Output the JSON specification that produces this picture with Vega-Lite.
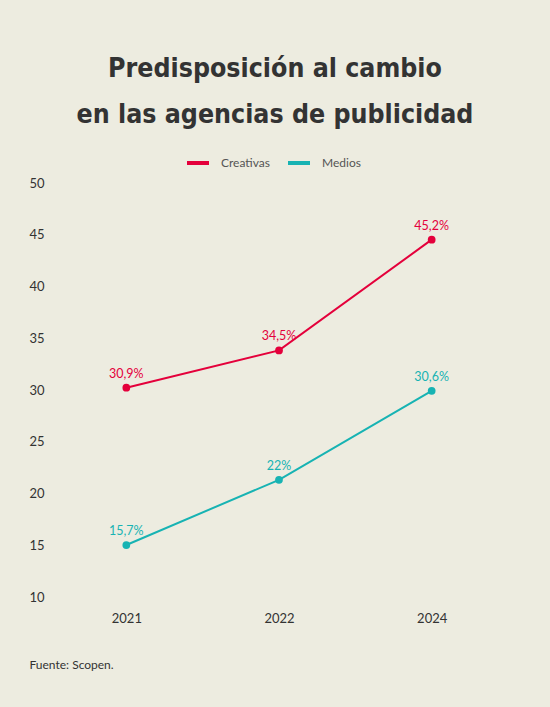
{
  "$schema": "https://vega.github.io/schema/vega-lite/v6.json",
  "autosize": "none",
  "width": 458,
  "height": 414,
  "padding": {"left": 50, "top": 190, "right": 42, "bottom": 103},
  "background": "#EDECE0",
  "title": {
    "text": ["Predisposición al cambio", "en las agencias de publicidad"],
    "anchor": "middle",
    "dx": -4,
    "font": "DejaVu Sans Condensed, Liberation Sans Narrow, sans-serif",
    "fontSize": 26.5,
    "fontWeight": "bold",
    "color": "#333333",
    "lineHeight": 46,
    "offset": 22
  },
  "data": {
    "values": [
      {"year": "2021", "serie": "Creativas", "value": 30.9, "label": "30,9%"},
      {"year": "2022", "serie": "Creativas", "value": 34.5, "label": "34,5%"},
      {"year": "2024", "serie": "Creativas", "value": 45.2, "label": "45,2%"},
      {"year": "2021", "serie": "Medios", "value": 15.7, "label": "15,7%"},
      {"year": "2022", "serie": "Medios", "value": 22, "label": "22%"},
      {"year": "2024", "serie": "Medios", "value": 30.6, "label": "30,6%"}
    ]
  },
  "encoding": {
    "x": {
      "field": "year",
      "type": "ordinal",
      "scale": {"type": "point", "padding": 0.5},
      "axis": {
        "title": "Fuente: Scopen.",
        "titleX": -21,
        "titleY": 64,
        "titleAlign": "left",
        "titleAnchor": null,
        "titleBaseline": "alphabetic",
        "titleFont": "Lato",
        "titleFontSize": 12,
        "titleFontWeight": "normal",
        "titleColor": "#333333",
        "labelAngle": 0,
        "labelPadding": 8,
        "domain": false,
        "ticks": false,
        "tickSize": 0,
        "grid": false
      }
    },
    "y": {
      "field": "value",
      "type": "quantitative",
      "scale": {"domain": [10, 50], "nice": false, "zero": false},
      "axis": {
        "title": null,
        "values": [10, 15, 20, 25, 30, 35, 40, 45, 50],
        "domain": false,
        "ticks": false,
        "tickSize": 0,
        "grid": false,
        "labelPadding": 6,
        "labelBaseline": "alphabetic",
        "labelOffset": -3
      }
    },
    "color": {
      "field": "serie",
      "type": "nominal",
      "scale": {"domain": ["Creativas", "Medios"], "range": ["#E4003B", "#17B3B3"]},
      "legend": {
        "title": null,
        "orient": "none",
        "direction": "horizontal",
        "legendX": 135,
        "legendY": -40,
        "symbolType": "stroke",
        "symbolSize": 484,
        "symbolStrokeWidth": 4,
        "labelFont": "Lato",
        "labelFontSize": 12,
        "labelColor": "#555555",
        "labelOffset": 10,
        "columnPadding": 10
      }
    }
  },
  "layer": [
    {"mark": {"type": "line", "strokeWidth": 2}},
    {"mark": {"type": "point", "filled": true, "size": 60, "opacity": 1}},
    {
      "mark": {"type": "text", "dy": -14, "font": "Lato", "fontSize": 12.5},
      "encoding": {"text": {"field": "label"}}
    }
  ],
  "config": {
    "view": {"stroke": null},
    "axis": {"labelFont": "Lato", "labelFontSize": 13, "labelColor": "#333333"}
  }
}
